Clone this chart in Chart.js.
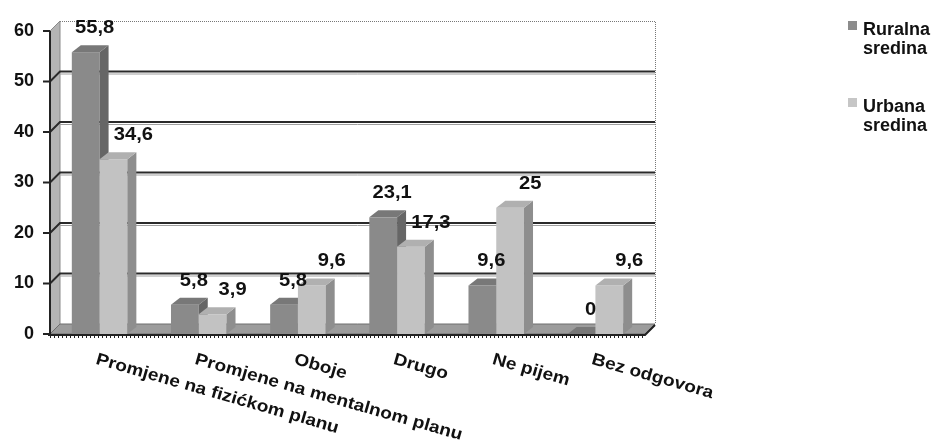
<!DOCTYPE html>
<html>
<head>
<meta charset="utf-8">
<script src="https://cdn.jsdelivr.net/npm/chart.js@4.4.1/dist/chart.umd.min.js"></script>
<style>
  html, body { margin: 0; padding: 0; background: #fff; }
  #wrap { width: 932px; height: 448px; }
</style>
</head>
<body>
<div id="wrap"><canvas id="chart" width="932" height="448"></canvas></div>
<script>
// Data
const categories = ['Promjene na fizićkom planu', 'Promjene na mentalnom planu', 'Oboje', 'Drugo', 'Ne pijem', 'Bez odgovora'];
const ruralna = [55.8, 5.8, 5.8, 23.1, 9.6, 0];
const urbana = [34.6, 3.9, 9.6, 17.3, 25, 9.6];
const seriesNames = ['Ruralna sredina', 'Urbana sredina'];
const yMax = 60;
const yStep = 10;

// Look
const FONT = '"Liberation Sans", Arial, sans-serif';
const WALL_DX = 10, WALL_DY = 10;   // depth of back wall
const BAR_DX = 9, BAR_DY = 7;       // depth of each column
const faces = [
  { front: '#8a8a8a', side: '#666666', top: '#787878', legend: '#8c8c8c', labelDx: 9 },
  { front: '#c2c2c2', side: '#8e8e8e', top: '#b0b0b0', legend: '#c6c6c6', labelDx: 20 }
];

function fmt(v) { return String(v).replace('.', ','); }

function drawColumn(ctx, el, f) {
  const { x, y, base, width } = el.getProps(['x', 'y', 'base', 'width'], true);
  const r = x + width / 2, l = x - width / 2;
  ctx.fillStyle = f.front;
  ctx.fillRect(l, y, width, base - y);
  ctx.fillStyle = f.side;
  ctx.beginPath();
  ctx.moveTo(r, y);
  ctx.lineTo(r + BAR_DX, y - BAR_DY);
  ctx.lineTo(r + BAR_DX, base - BAR_DY);
  ctx.lineTo(r, base);
  ctx.closePath();
  ctx.fill();
  ctx.fillStyle = f.top;
  ctx.beginPath();
  ctx.moveTo(l, y);
  ctx.lineTo(l + BAR_DX, y - BAR_DY);
  ctx.lineTo(r + BAR_DX, y - BAR_DY);
  ctx.lineTo(r, y);
  ctx.closePath();
  ctx.fill();
}

const threeDPlugin = {
  id: 'threeD',
  // walls, floor, gridlines, axes
  beforeDatasetsDraw(chart) {
    const { ctx, chartArea: a, scales: { y } } = chart;
    ctx.save();
    // back wall
    ctx.fillStyle = '#fff';
    ctx.fillRect(a.left + WALL_DX, a.top - WALL_DY, a.right - a.left, a.bottom - a.top);
    ctx.strokeStyle = '#777';
    ctx.lineWidth = 1;
    ctx.setLineDash([1, 1]);
    ctx.beginPath();
    ctx.moveTo(a.left + WALL_DX, a.top - WALL_DY + 0.5);
    ctx.lineTo(a.right + WALL_DX + 0.5, a.top - WALL_DY + 0.5);
    ctx.lineTo(a.right + WALL_DX + 0.5, a.bottom - WALL_DY);
    ctx.stroke();
    ctx.setLineDash([]);

    // left wall
    ctx.fillStyle = '#b4b4b4';
    ctx.beginPath();
    ctx.moveTo(a.left, a.bottom);
    ctx.lineTo(a.left, a.top);
    ctx.lineTo(a.left + WALL_DX, a.top - WALL_DY);
    ctx.lineTo(a.left + WALL_DX, a.bottom - WALL_DY);
    ctx.closePath();
    ctx.fill();
    ctx.strokeStyle = '#8a8a8a';
    ctx.stroke();

    // gridlines
    for (let v = yStep; v < yMax; v += yStep) {
      const py = y.getPixelForValue(v);
      ctx.strokeStyle = '#a0a0a0';
      ctx.lineWidth = 1;
      ctx.beginPath();
      ctx.moveTo(a.left + WALL_DX, py - WALL_DY + 2.5);
      ctx.lineTo(a.right + WALL_DX, py - WALL_DY + 2.5);
      ctx.stroke();
      ctx.strokeStyle = '#2a2a2a';
      ctx.lineWidth = 2;
      ctx.beginPath();
      ctx.moveTo(a.left, py);
      ctx.lineTo(a.left + WALL_DX, py - WALL_DY);
      ctx.lineTo(a.right + WALL_DX, py - WALL_DY);
      ctx.stroke();
    }

    // floor
    ctx.fillStyle = '#9c9c9c';
    ctx.beginPath();
    ctx.moveTo(a.left, a.bottom);
    ctx.lineTo(a.right, a.bottom);
    ctx.lineTo(a.right + WALL_DX, a.bottom - WALL_DY);
    ctx.lineTo(a.left + WALL_DX, a.bottom - WALL_DY);
    ctx.closePath();
    ctx.fill();
    ctx.strokeStyle = '#6e6e6e';
    ctx.lineWidth = 1;
    ctx.stroke();

    // y axis line and tick marks
    ctx.strokeStyle = '#222';
    ctx.lineWidth = 2;
    ctx.beginPath();
    ctx.moveTo(a.left, a.top);
    ctx.lineTo(a.left, a.bottom + 2);
    for (let v = 0; v <= yMax; v += yStep) {
      const py = y.getPixelForValue(v);
      ctx.moveTo(a.left - 7, py);
      ctx.lineTo(a.left, py);
    }
    ctx.stroke();

    // x axis line with dotted ticks
    ctx.beginPath();
    ctx.moveTo(a.left - 2, a.bottom + 1);
    ctx.lineTo(a.right, a.bottom + 1);
    ctx.lineTo(a.right + WALL_DX, a.bottom - WALL_DY + 1);
    ctx.stroke();
    ctx.setLineDash([1, 3]);
    ctx.beginPath();
    ctx.moveTo(a.left, a.bottom + 3);
    ctx.lineTo(a.right, a.bottom + 3);
    ctx.stroke();
    ctx.setLineDash([]);
    ctx.restore();
  },

  // columns: left series first in each group so the right one overlaps it
  afterDatasetsDraw(chart) {
    const { ctx } = chart;
    const metas = chart.data.datasets.map((d, i) => chart.getDatasetMeta(i));
    ctx.save();
    categories.forEach((c, i) => {
      metas.forEach((m, di) => drawColumn(ctx, m.data[i], faces[di]));
    });
    ctx.restore();
  },

  afterDraw(chart) {
    const { ctx, chartArea: a, scales: { x } } = chart;
    ctx.save();
    ctx.fillStyle = '#111';

    // value labels
    ctx.font = 'bold 18px ' + FONT;
    ctx.textAlign = 'center';
    ctx.textBaseline = 'middle';
    chart.data.datasets.forEach((ds, di) => {
      chart.getDatasetMeta(di).data.forEach((el, i) => {
        ctx.save();
        ctx.translate(el.x + faces[di].labelDx, el.y - 24);
        ctx.scale(1.12, 1);
        ctx.fillText(fmt(ds.data[i]), 0, 0);
        ctx.restore();
      });
    });

    // category labels, slanted
    ctx.font = 'bold 17px ' + FONT;
    ctx.textAlign = 'left';
    ctx.textBaseline = 'top';
    categories.forEach((c, i) => {
      ctx.save();
      ctx.translate(x.getPixelForValue(i) - 1, a.bottom + 17);
      ctx.rotate(16 * Math.PI / 180);
      ctx.scale(1.12, 1);
      ctx.fillText(c, 0, 0);
      ctx.restore();
    });

    // legend
    ctx.font = 'bold 18px ' + FONT;
    ctx.textBaseline = 'alphabetic';
    const legendTop = [21, 98];
    seriesNames.forEach((name, i) => {
      ctx.fillStyle = faces[i].legend;
      ctx.fillRect(848, legendTop[i], 9, 9);
      ctx.fillStyle = '#111';
      name.split(' ').forEach((w, j) => {
        ctx.fillText(w, 863, legendTop[i] + 14 + j * 19);
      });
    });
    ctx.restore();
  }
};

new Chart(document.getElementById('chart'), {
  type: 'bar',
  data: {
    labels: categories,
    datasets: [
      { label: seriesNames[0], data: ruralna, backgroundColor: 'rgba(0,0,0,0)' },
      { label: seriesNames[1], data: urbana, backgroundColor: 'rgba(0,0,0,0)' }
    ]
  },
  options: {
    responsive: false,
    animation: false,
    events: [],
    layout: { padding: { top: 31, right: 287, bottom: 114, left: 0 } },
    datasets: { bar: { categoryPercentage: 0.56, barPercentage: 1 } },
    plugins: { legend: { display: false }, tooltip: { enabled: false } },
    scales: {
      x: { display: false },
      y: {
        min: 0,
        max: yMax,
        afterFit: s => { s.width = 50; },
        border: { display: false },
        grid: { display: false, drawTicks: true, tickLength: 8 },
        ticks: {
          stepSize: yStep,
          padding: 8,
          color: '#111',
          font: { family: FONT, size: 18, weight: 'bold' }
        }
      }
    }
  },
  plugins: [threeDPlugin]
});
</script>
</body>
</html>
